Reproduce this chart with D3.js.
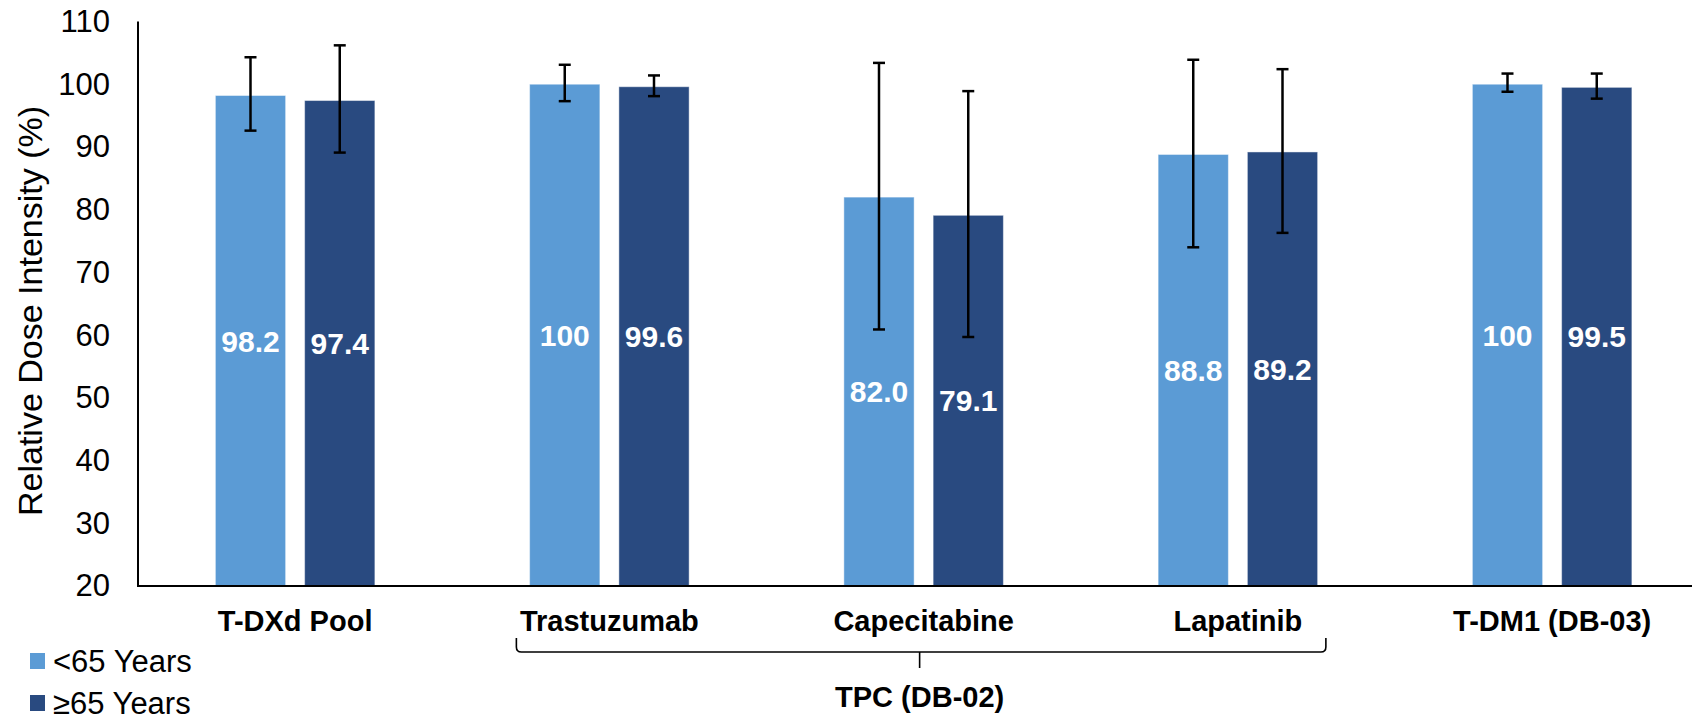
<!DOCTYPE html>
<html>
<head>
<meta charset="utf-8">
<script src="https://cdn.jsdelivr.net/npm/d3@7/dist/d3.min.js"></script>
<style>
  html, body { margin: 0; padding: 0; background: #fff; }
  svg { display: block; font-family: "Liberation Sans", Arial, sans-serif; }
</style>
</head>
<body>
<svg id="chart" width="1692" height="720"></svg>
<script>
// Treatment arms shown along the x axis
const categories = ["T-DXd Pool", "Trastuzumab", "Capecitabine", "Lapatinib", "T-DM1 (DB-03)"];
const seriesNames = ["<65 Years", "≥65 Years"];
const seriesColors = ["#5B9BD5", "#294A80"];

// Mean relative dose intensity (%) per age group
const under65 = [98.2, 100, 82.0, 88.8, 100];
const over65 = [97.4, 99.6, 79.1, 89.2, 99.5];
const under65Labels = ["98.2", "100", "82.0", "88.8", "100"];
const over65Labels = ["97.4", "99.6", "79.1", "89.2", "99.5"];

// Error bar limits (%)
const under65Upper = [104.3, 103.1, 103.4, 103.9, 101.7];
const under65Lower = [92.6, 97.3, 60.9, 74.0, 98.8];
const over65Upper = [106.2, 101.4, 98.9, 102.4, 101.7];
const over65Lower = [89.1, 98.1, 59.7, 76.3, 97.7];

// Y axis ticks
const yTicks = [20, 30, 40, 50, 60, 70, 80, 90, 100, 110];

// Bracket grouping the TPC arms
const tpcGroup = { label: "TPC (DB-02)", from: "Trastuzumab", to: "Lapatinib" };

const svg = d3.select("#chart");
const W = 1692;
const axisX = 138, baseY = 586, topY = 21.5;

const x0 = d3.scaleBand().domain(categories).range([axisX, axisX + 5 * 314.25]).padding(0);
const groupHalf = 79.75;
const x1 = d3.scaleBand().domain(seriesNames)
  .range([x0.bandwidth() / 2 - groupHalf, x0.bandwidth() / 2 + groupHalf])
  .paddingInner(0.213).paddingOuter(0);
const y = d3.scaleLinear().domain([20, 110]).range([baseY, topY]);

const rows = [];
categories.forEach((c, i) => {
  rows.push({ cat: c, s: seriesNames[0], v: under65[i], lab: under65Labels[i], hi: under65Upper[i], lo: under65Lower[i], col: seriesColors[0] });
  rows.push({ cat: c, s: seriesNames[1], v: over65[i], lab: over65Labels[i], hi: over65Upper[i], lo: over65Lower[i], col: seriesColors[1] });
});

// Bars
svg.append("g").selectAll("rect").data(rows).join("rect")
  .attr("x", d => x0(d.cat) + x1(d.s))
  .attr("y", d => y(d.v))
  .attr("width", x1.bandwidth())
  .attr("height", d => y(20) - y(d.v))
  .attr("fill", d => d.col)
  .attr("stroke", "rgba(255,255,255,0.45)")
  .attr("stroke-width", 1);

// Value labels at bar middles
svg.append("g").selectAll("text").data(rows).join("text")
  .attr("x", d => x0(d.cat) + x1(d.s) + x1.bandwidth() / 2)
  .attr("y", d => (y(d.v) + y(20)) / 2)
  .attr("dy", "0.36em")
  .attr("text-anchor", "middle")
  .attr("fill", "#fff")
  .attr("font-weight", "bold")
  .attr("font-size", 30)
  .text(d => d.lab);

// Error bars
const eb = svg.append("g").attr("stroke", "#000").attr("stroke-width", 2.5);
rows.forEach(d => {
  const cx = x0(d.cat) + x1(d.s) + x1.bandwidth() / 2;
  eb.append("line").attr("x1", cx).attr("x2", cx).attr("y1", y(d.hi)).attr("y2", y(d.lo));
  eb.append("line").attr("x1", cx - 6).attr("x2", cx + 6).attr("y1", y(d.hi)).attr("y2", y(d.hi));
  eb.append("line").attr("x1", cx - 6).attr("x2", cx + 6).attr("y1", y(d.lo)).attr("y2", y(d.lo));
});

// Y axis
const yAxis = d3.axisLeft(y).tickValues(yTicks).tickSize(0).tickPadding(28);
const gy = svg.append("g").attr("transform", `translate(${axisX},0)`).call(yAxis);
gy.select(".domain").remove();
gy.selectAll("text").attr("font-size", 31).attr("fill", "#000")
  .attr("font-family", "Liberation Sans, Arial, sans-serif");

// Axis lines
svg.append("line").attr("x1", axisX).attr("x2", axisX).attr("y1", topY).attr("y2", baseY + 1)
  .attr("stroke", "#000").attr("stroke-width", 2);
svg.append("line").attr("x1", axisX - 1).attr("x2", W).attr("y1", baseY).attr("y2", baseY)
  .attr("stroke", "#000").attr("stroke-width", 2);

// Y axis title
svg.append("text")
  .attr("transform", `translate(30,311) rotate(-90)`)
  .attr("dy", "0.35em")
  .attr("text-anchor", "middle")
  .attr("font-size", 34)
  .attr("fill", "#000")
  .text("Relative Dose Intensity (%)");

// Category labels
svg.append("g").selectAll("text").data(categories).join("text")
  .attr("x", c => x0(c) + x0.bandwidth() / 2)
  .attr("y", 631)
  .attr("text-anchor", "middle")
  .attr("font-weight", "bold")
  .attr("font-size", 29)
  .attr("fill", "#000")
  .text(c => c);

// TPC bracket
const bL = x0(tpcGroup.from) + x0.bandwidth() / 2 - 93;
const bR = x0(tpcGroup.to) + x0.bandwidth() / 2 + 88;
const bMid = (x0(tpcGroup.from) + x0(tpcGroup.to) + x0.bandwidth()) / 2 - 4;
const bTop = 638, bLine = 652, bStem = 668, r = 5;
const bp = d3.path();
bp.moveTo(bL, bTop);
bp.lineTo(bL, bLine - r);
bp.quadraticCurveTo(bL, bLine, bL + r, bLine);
bp.lineTo(bR - r, bLine);
bp.quadraticCurveTo(bR, bLine, bR, bLine - r);
bp.lineTo(bR, bTop);
bp.moveTo(bMid, bLine);
bp.lineTo(bMid, bStem);
svg.append("path").attr("d", bp.toString()).attr("fill", "none")
  .attr("stroke", "#000").attr("stroke-width", 1.6);
svg.append("text")
  .attr("x", bMid).attr("y", 707)
  .attr("text-anchor", "middle")
  .attr("font-weight", "bold")
  .attr("font-size", 29)
  .attr("fill", "#000")
  .text(tpcGroup.label);

// Legend
const lg = svg.append("g").selectAll("g").data(seriesNames).join("g")
  .attr("transform", (d, i) => `translate(30,${653 + i * 42})`);
lg.append("rect").attr("width", 15).attr("height", 16).attr("fill", (d, i) => seriesColors[i]);
lg.append("text").attr("x", 23).attr("y", 8).attr("dy", "0.34em")
  .attr("font-size", 31).attr("fill", "#000").text(d => d);
</script>
</body>
</html>
